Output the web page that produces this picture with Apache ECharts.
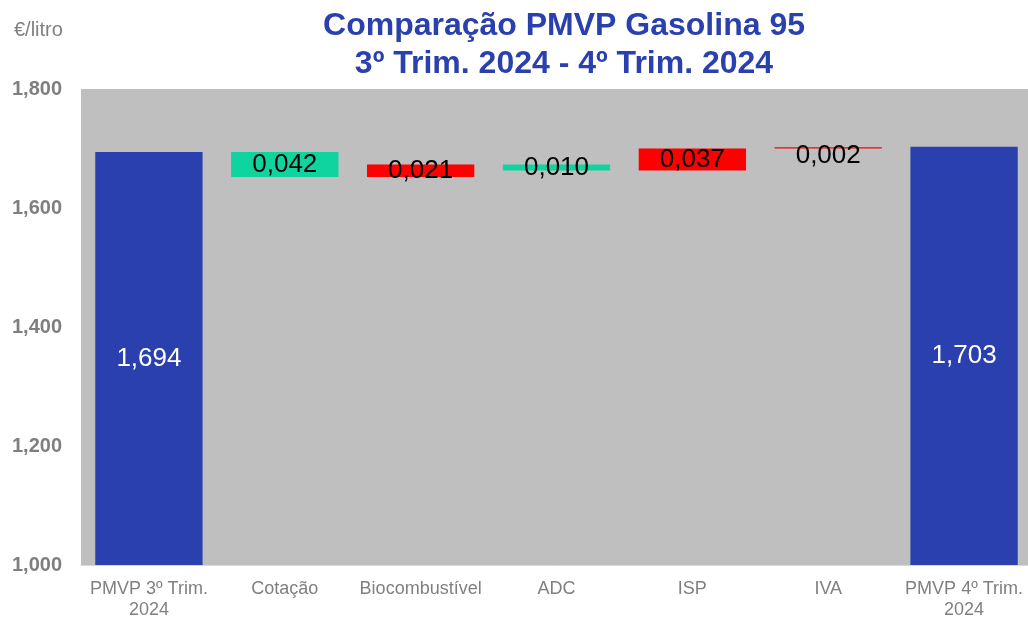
<!DOCTYPE html>
<html><head><meta charset="utf-8">
<script src="https://cdn.jsdelivr.net/npm/echarts@6/dist/echarts.min.js"></script>
<style>html,body{margin:0;padding:0;background:#fff}#c{width:1028px;height:618px}</style>
</head><body><div id="c"></div>
<script>
// ---- data ----
const categories = ['PMVP 3º Trim.\n2024', 'Cotação', 'Biocombustível', 'ADC', 'ISP', 'IVA', 'PMVP 4º Trim.\n2024'];
const startTotal = 1.694;
const endTotal = 1.703;
const changes = [-0.042, 0.021, -0.010, 0.037, 0.002];
const yMin = 1.0, yMax = 1.8, yInterval = 0.2;
const titleText = 'Comparação PMVP Gasolina 95\n3º Trim. 2024 - 4º Trim. 2024';
const unitText = '€/litro';

// ---- build waterfall ----
const FONT = '"Liberation Sans", Arial, sans-serif';
const BLUE = '#2A40AE', GREEN = '#10D4A0', RED = '#FF0000';
const fmt = v => Math.abs(v).toFixed(3).replace('.', ',');

const baseData = [0];
const deltaData = [{ value: startTotal, itemStyle: { color: BLUE },
  label: { color: '#fff' } }];
let running = startTotal;
changes.forEach((c, i) => {
  const lo = Math.min(running, running + c);
  baseData.push(lo);
  const item = { value: Math.abs(c), itemStyle: { color: c < 0 ? GREEN : RED }, label: { color: '#000' } };
  if (i === changes.length - 1) item.label.offset = [0, 8];
  deltaData.push(item);
  running += c;
});
baseData.push(0);
deltaData.push({ value: endTotal, itemStyle: { color: BLUE }, label: { color: '#fff' } });

const chart = echarts.init(document.getElementById('c'), null, { renderer: 'canvas' });
chart.setOption({
  animation: false,
  backgroundColor: '#fff',
  title: {
    text: titleText, left: 564, top: 7, padding: 0, textAlign: 'center',
    textStyle: { color: '#2A40AE', fontSize: 32, fontWeight: 'bold', fontFamily: FONT, lineHeight: 38 }
  },
  graphic: [{
    type: 'text', left: 14, top: 20,
    style: { text: unitText, fill: '#808080', font: '20px ' + FONT }
  }],
  grid: { left: 81, top: 89, width: 951, height: 476, outerBoundsMode: 'none', containLabel: false,
    show: true, backgroundColor: '#BFBFBF', borderWidth: 0 },
  xAxis: {
    type: 'category', data: categories,
    axisTick: { show: false },
    axisLine: { show: true, lineStyle: { color: '#D9D9D9', width: 1 } },
    axisLabel: { color: '#808080', fontSize: 18, fontFamily: FONT, margin: 14, lineHeight: 21, interval: 0 },
    z: 10
  },
  yAxis: {
    type: 'value', min: yMin, max: yMax, interval: yInterval,
    axisLine: { show: false }, axisTick: { show: false }, splitLine: { show: false },
    axisLabel: { color: '#7F7F7F', fontSize: 20, fontWeight: 'bold', fontFamily: FONT, margin: 19,
      formatter: v => v.toFixed(3).replace('.', ',') }
  },
  series: [
    { type: 'bar', stack: 'w', data: baseData, barWidth: '79%', silent: true,
      itemStyle: { color: 'rgba(0,0,0,0)' } },
    { type: 'bar', stack: 'w', data: deltaData, barWidth: '79%',
      label: { show: true, position: 'inside', fontSize: 26, fontFamily: FONT,
        formatter: p => fmt(p.value) } }
  ]
});
</script></body></html>
